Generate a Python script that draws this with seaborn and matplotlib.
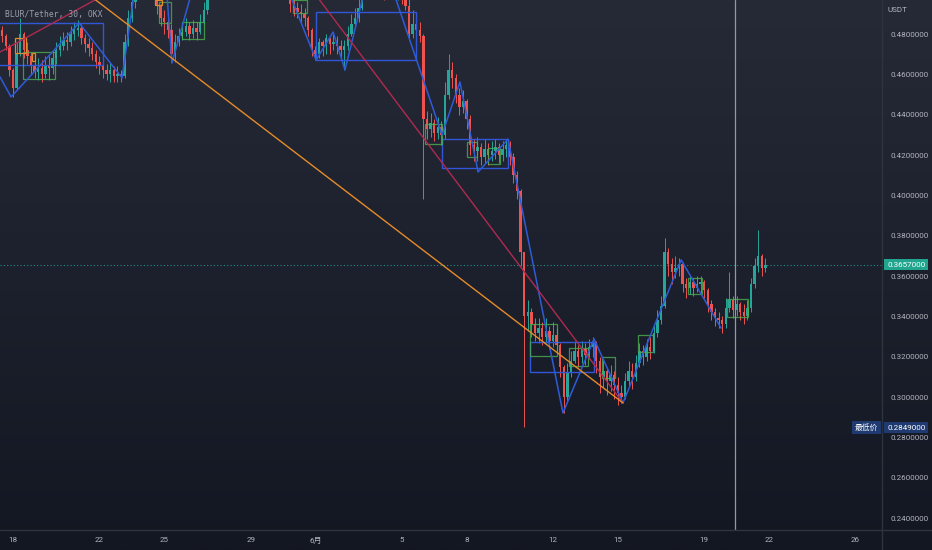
import numpy as np
import pandas as pd
import seaborn as sns
import matplotlib
matplotlib.use("Agg")
import matplotlib.pyplot as plt
from matplotlib.patches import Rectangle
from matplotlib.lines import Line2D

# 4h candles, prices in 0.0001 USDT, candle i sits at day 0.5 + i/6 (days after May 17)
first_open = 4820
closes = [4790, 4740, 4620, 4530, 4700, 4800, 4720, 4690, 4640, 4610,
          4630, 4600, 4640, 4630, 4680, 4720, 4740, 4770, 4760, 4800,
          4820, 4830, 4780, 4750, 4730, 4700, 4660, 4640, 4620, 4600,
          4620, 4590, 4600, 4590, 4760, 4880, 4960, 5020, 5030, 5060,
          5080, 5090, 5040, 4940, 4880, 4860, 4820, 4700, 4760, 4790,
          4810, 4840, 4800, 4830, 4810, 4860, 4920, 5000, 5050, 5080,
          5100, 5120, 5150, 5130, 5160, 5140, 5120, 5150, 5180, 5160,
          5140, 5120, 5100, 5110, 5090, 5070, 5060, 5050, 5030, 5010,
          4950, 4930, 4910, 4900, 4880, 4820, 4720, 4700, 4760, 4740,
          4780, 4750, 4760, 4740, 4720, 4740, 4800, 4850, 4880, 4930,
          4990, 5040, 5080, 5100, 5060, 5030, 5010, 5020, 5040, 5000,
          5000, 4980, 4940, 4800, 4850, 4820, 4790, 4380, 4330, 4360,
          4310, 4340, 4300, 4500, 4620, 4580, 4500, 4440, 4470, 4380,
          4250, 4220, 4240, 4190, 4230, 4200, 4220, 4240, 4200, 4230,
          4250, 4190, 4100, 4020, 3720, 3400, 3420, 3360, 3320, 3340,
          3300, 3330, 3280, 3310, 3260, 3150, 3000, 3120, 3180, 3230,
          3200, 3240, 3210, 3250, 3270, 3180, 3100, 3130, 3080, 3110,
          3060, 3020, 3000, 3080, 3130, 3100, 3170, 3230, 3200, 3250,
          3230, 3320, 3380, 3450, 3720, 3660, 3620, 3640, 3660, 3560,
          3540, 3570, 3540, 3560, 3570, 3530, 3460, 3420, 3390, 3380,
          3360, 3440, 3480, 3430, 3460, 3420, 3400, 3440, 3560, 3650,
          3700, 3640, 3657]
highs = [4840, 4800, 4750, 4630, 4760, 4880, 4810, 4760, 4710, 4680,
         4680, 4670, 4690, 4690, 4720, 4760, 4790, 4810, 4810, 4840,
         4860, 4870, 4850, 4800, 4780, 4760, 4720, 4690, 4670, 4650,
         4660, 4640, 4640, 4620, 4800, 4920, 5000, 5060, 5070, 5100,
         5120, 5130, 5100, 5050, 4950, 4920, 4900, 4850, 4800, 4830,
         4860, 4880, 4860, 4870, 4860, 4900, 4960, 5040, 5090, 5120,
         5140, 5160, 5190, 5180, 5200, 5180, 5170, 5190, 5220, 5200,
         5180, 5160, 5140, 5150, 5130, 5110, 5100, 5090, 5070, 5050,
         5030, 4990, 4960, 4950, 4930, 4890, 4830, 4740, 4780, 4770,
         4800, 4780, 4800, 4790, 4770, 4770, 4840, 4900, 4930, 4990,
         5030, 5080, 5120, 5140, 5110, 5070, 5050, 5060, 5080, 5050,
         5040, 5030, 5010, 4990, 4920, 4880, 4860, 4800, 4420, 4410,
         4380, 4390, 4370, 4560, 4700, 4660, 4600, 4530, 4520, 4480,
         4400, 4280, 4290, 4260, 4280, 4260, 4270, 4280, 4260, 4270,
         4280, 4270, 4210, 4120, 4030, 3720, 3480, 3440, 3390, 3390,
         3370, 3390, 3350, 3370, 3340, 3270, 3160, 3170, 3230, 3280,
         3260, 3280, 3270, 3290, 3300, 3280, 3200, 3190, 3150, 3160,
         3130, 3100, 3060, 3120, 3180, 3170, 3210, 3270, 3260, 3290,
         3300, 3360, 3430, 3500, 3790, 3740, 3690, 3700, 3690, 3670,
         3590, 3600, 3590, 3600, 3600, 3580, 3540, 3480, 3440, 3420,
         3400, 3490, 3620, 3500, 3500, 3470, 3460, 3480, 3590, 3690,
         3830, 3710, 3690]
lows = [4760, 4720, 4590, 4490, 4520, 4690, 4680, 4650, 4600, 4580,
        4570, 4560, 4580, 4570, 4600, 4650, 4690, 4720, 4720, 4740,
        4770, 4790, 4750, 4710, 4690, 4670, 4630, 4600, 4580, 4570,
        4560, 4560, 4560, 4560, 4580, 4740, 4860, 4930, 4990, 5000,
        5030, 5040, 4990, 4900, 4840, 4800, 4780, 4660, 4660, 4740,
        4770, 4790, 4770, 4780, 4770, 4800, 4850, 4900, 4990, 5020,
        5050, 5070, 5090, 5100, 5110, 5100, 5090, 5100, 5120, 5110,
        5100, 5080, 5070, 5060, 5050, 5030, 5020, 5010, 4990, 4980,
        4910, 4890, 4880, 4860, 4840, 4790, 4690, 4670, 4680, 4690,
        4700, 4700, 4720, 4700, 4680, 4620, 4720, 4790, 4830, 4860,
        4920, 4980, 5020, 5030, 5010, 4990, 4970, 4980, 4990, 4980,
        4970, 4950, 4920, 4770, 4780, 4780, 4760, 3980, 4280, 4290,
        4270, 4280, 4250, 4280, 4480, 4530, 4460, 4400, 4410, 4330,
        4200, 4170, 4170, 4150, 4160, 4150, 4170, 4180, 4160, 4170,
        4190, 4150, 4060, 3980, 3650, 2850, 3330, 3300, 3280, 3270,
        3260, 3270, 3240, 3250, 3220, 3100, 2920, 2980, 3100, 3170,
        3150, 3170, 3160, 3190, 3200, 3120, 3020, 3050, 3010, 3030,
        2990, 2960, 2970, 2990, 3050, 3040, 3080, 3150, 3160, 3180,
        3190, 3220, 3300, 3360, 3440, 3600, 3560, 3590, 3600, 3520,
        3490, 3510, 3500, 3520, 3510, 3490, 3420, 3380, 3350, 3340,
        3320, 3340, 3420, 3390, 3400, 3380, 3360, 3380, 3420, 3540,
        3620, 3600, 3620]

last_price = 0.3657
lowest_price = 0.2849
marker_day = 34.43

tick_days = [1, 5, 8, 12, 15, 19, 22, 26, 29, 33, 36, 40]
tick_labels = ["18", "22", "25", "29", "6月", "5", "8", "12", "15", "19", "22", "26"]

# zigzag legs (day, price)
zz_leg = [0, 0, 0, 0, 0, 1, 1, 1, 2, 2, 2, 2, 2,
          3, 3, 3, 3, 3, 3, 3, 3, 3, 3]
zz_day = [0.40, 0.91, 4.06, 6.05, 6.60, 8.08, 8.36, 9.43, 13.55, 15.03, 15.82, 16.37, 17.44,
          18.41, 20.86, 21.69, 22.53, 23.92, 26.46, 27.90, 29.24, 31.93, 33.78]
zz_price = [0.4587, 0.4488, 0.4855, 0.4582, 0.4993, 0.5067, 0.4656, 0.5068, 0.5067, 0.4671, 0.4810, 0.4622, 0.5088,
            0.5072, 0.4300, 0.4562, 0.4116, 0.4279, 0.2921, 0.3288, 0.2971, 0.3680, 0.3342]

red_day = [0.40, 4.80, 12.16, 29.24]
red_price = [0.4711, 0.4969, 0.5400, 0.2971]
orange_day = [4.70, 29.24]
orange_price = [0.4979, 0.2971]

blue_boxes = [(0.30, 5.17, 0.4646, 0.4855), (15.03, 19.66, 0.4671, 0.4909),
              (20.86, 23.92, 0.4136, 0.4279), (24.94, 27.90, 0.3124, 0.3273)]
green_boxes = [(1.46, 2.94, 0.4577, 0.4711), (8.82, 9.84, 0.4775, 0.4859),
               (7.76, 8.32, 0.4855, 0.4959), (13.96, 14.61, 0.4904, 0.4969),
               (20.07, 20.86, 0.4255, 0.4354), (22.02, 22.48, 0.4190, 0.4265),
               (22.99, 23.55, 0.4155, 0.4235), (24.94, 26.19, 0.3204, 0.3362),
               (26.74, 27.62, 0.3154, 0.3243), (28.27, 28.87, 0.3094, 0.3199),
               (29.94, 30.63, 0.3223, 0.3308), (32.25, 32.90, 0.3511, 0.3590),
               (34.06, 35.03, 0.3397, 0.3486)]
orange_boxes = [(1.09, 1.60, 0.4706, 0.4780), (1.88, 2.02, 0.4666, 0.4706),
                (7.57, 7.90, 0.4944, 0.4969)]

UP = "#26a69a"
DOWN = "#ef5350"
TXT = "#b2b5be"

sns.set_theme(style="dark", rc={"axes.facecolor": "none", "figure.facecolor": "#1b1f2b"})
plt.rcParams["font.family"] = ["Roboto", "Noto Sans CJK SC", "DejaVu Sans"]

c = np.array(closes) / 10000
h = np.array(highs) / 10000
l = np.array(lows) / 10000
o = np.concatenate([[first_open / 10000], c[:-1]])
h = np.maximum(h, np.maximum(o, c))
l = np.minimum(l, np.minimum(o, c))
days = 0.5 + np.arange(len(c)) / 6
up = c >= o

fig = plt.figure(figsize=(9.32, 5.5), dpi=100)

bg = fig.add_axes([0, 0, 1, 1], zorder=-1)
grad = np.linspace(0, 1, 256).reshape(-1, 1)
cmap = matplotlib.colors.LinearSegmentedColormap.from_list("bg", ["#262a37", "#131722"])
bg.imshow(grad, aspect="auto", cmap=cmap, extent=[0, 1, 0, 1], origin="upper")
bg.set_axis_off()

ax = fig.add_axes([0, 20 / 550, 882 / 932, 530 / 550])
ax.set_xlim(0.398, 41.23)
ax.set_ylim(0.23409, 0.49686)

# candles
ax.vlines(days[up], l[up], h[up], color=UP, lw=0.7, zorder=3)
ax.vlines(days[~up], l[~up], h[~up], color=DOWN, lw=0.7, zorder=3)
ax.bar(days[up], np.maximum(c[up] - o[up], 0.0004), bottom=o[up], width=0.11, color=UP, lw=0, zorder=3)
ax.bar(days[~up], np.minimum(c[~up] - o[~up], -0.0004), bottom=o[~up], width=0.11, color=DOWN, lw=0, zorder=3)

# boxes
for t0, t1, p0, p1 in blue_boxes:
    ax.add_patch(Rectangle((t0, p0), t1 - t0, p1 - p0, fill=False, ec="#3157d8", lw=1.0, zorder=4))
for t0, t1, p0, p1 in green_boxes:
    ax.add_patch(Rectangle((t0, p0), t1 - t0, p1 - p0, fill=False, ec="#4caf50", lw=0.9, alpha=0.8, zorder=4))
for t0, t1, p0, p1 in orange_boxes:
    ax.add_patch(Rectangle((t0, p0), t1 - t0, p1 - p0, fill=False, ec="#e08a2e", lw=0.9, zorder=4))

# trend lines
zz = pd.DataFrame({"leg": zz_leg, "day": zz_day, "price": zz_price})
sns.lineplot(data=zz, x="day", y="price", units="leg", estimator=None, sort=False,
             color="#2f5bd6", lw=1.1, ax=ax, zorder=5)
sns.lineplot(x=red_day, y=red_price, sort=False, estimator=None, color="#b02a50", lw=1.0, ax=ax, zorder=5)
sns.lineplot(x=orange_day, y=orange_price, sort=False, estimator=None, color="#e58b2a", lw=1.0, ax=ax, zorder=5)

ax.axhline(last_price, color=UP, lw=0.8, ls=(0, (1, 2)), alpha=0.8, zorder=2)
ax.axvline(marker_day, color="#9598a1", lw=0.9, zorder=6)

# axes styling
for s in ax.spines.values():
    s.set_visible(False)
ax.grid(False)
ax.set_xlabel("")
ax.set_ylabel("")
ax.yaxis.tick_right()
yt = np.arange(0.24, 0.481, 0.02)
ax.set_yticks(yt)
ax.set_yticklabels([f"{v:.7f}" for v in yt])
ax.set_xticks(tick_days)
ax.set_xticklabels(tick_labels)
ax.tick_params(axis="y", length=0, pad=6, labelsize=5.8, labelcolor=TXT)
ax.tick_params(axis="x", length=0, pad=5, labelsize=5.8, labelcolor=TXT)

tr = ax.get_yaxis_transform()
ax.text(1.0 + 5 / 882, last_price, "0.3657000", transform=tr, ha="left", va="center",
        fontsize=5.8, color="white", clip_on=False, zorder=10,
        bbox=dict(boxstyle="square,pad=0.35", fc="#22a58f", ec="none"))
ax.text(1.0 + 5 / 882, lowest_price, "0.2849000", transform=tr, ha="left", va="center",
        fontsize=5.8, color="white", clip_on=False, zorder=10,
        bbox=dict(boxstyle="square,pad=0.35", fc="#1e3a70", ec="none"))
ax.text(1.0 - 4 / 882, lowest_price, "最低价", transform=tr, ha="right", va="center",
        fontsize=5.6, color="white", clip_on=False, zorder=10,
        bbox=dict(boxstyle="square,pad=0.35", fc="#1e3a70", ec="none"))

fig.text(5 / 932, 1 - 14 / 550, "BLUR/Tether, 30, OKX", family="DejaVu Sans Mono",
         fontsize=5.8, color="#9ca0aa", va="center", ha="left")
fig.text(888 / 932, 1 - 10 / 550, "USDT", fontsize=5.8, color=TXT, va="center", ha="left")

fig.add_artist(Line2D([882 / 932, 882 / 932], [0, 1], transform=fig.transFigure, color="#2f333e", lw=1))
fig.add_artist(Line2D([0, 1], [20 / 550, 20 / 550], transform=fig.transFigure, color="#2f333e", lw=1))

fig.savefig("out.png", dpi=100)
